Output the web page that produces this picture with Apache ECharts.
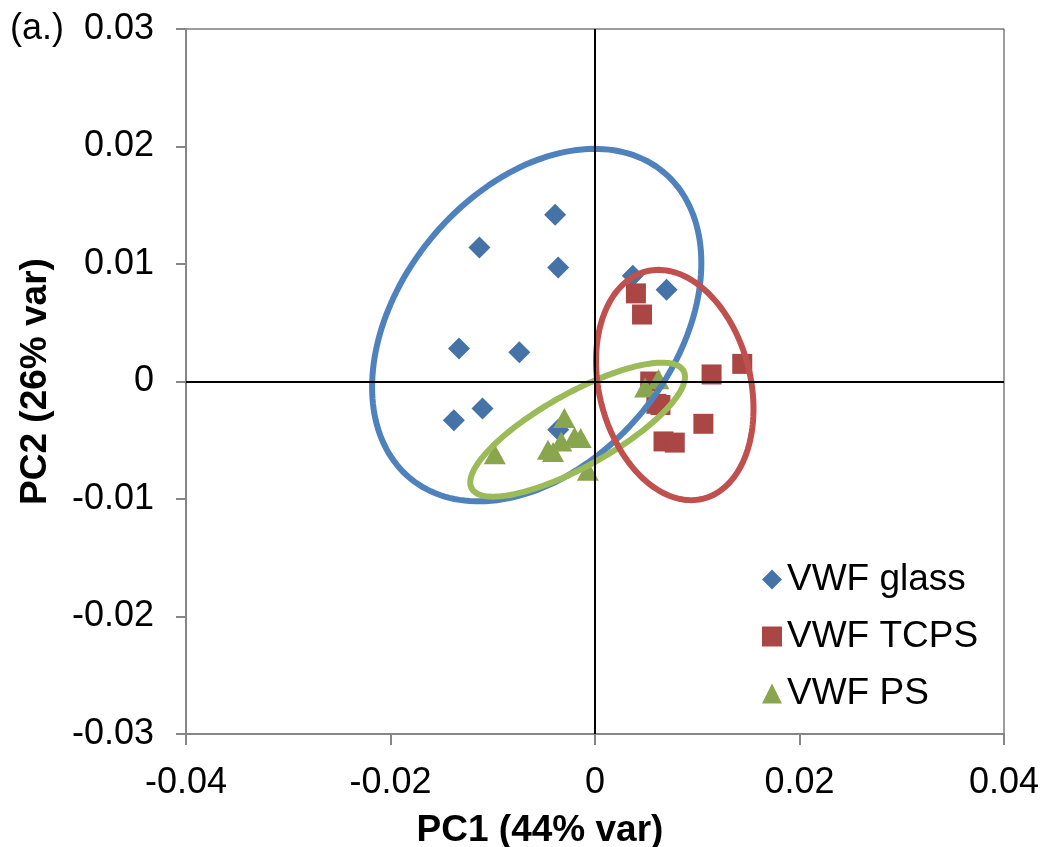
<!DOCTYPE html>
<html>
<head>
<meta charset="utf-8">
<script src="https://cdn.jsdelivr.net/npm/echarts@6/dist/echarts.min.js"></script>
<style>
html,body{margin:0;padding:0;background:#fff;}
#chart{width:1045px;height:847px;}
</style>
</head>
<body>
<div id="chart"></div>
<script>
// ---- data ----
const seriesNames = ['VWF glass', 'VWF TCPS', 'VWF PS'];
const vwfGlass = [[-0.0039,0.0142],[-0.0113,0.0114],[-0.0036,0.0097],[-0.0133,0.0028],[-0.0074,0.0025],[-0.0110,-0.0023],[-0.0138,-0.0033],[-0.0036,-0.0041],[0.0037,0.0090],[0.0070,0.0078]];
const vwfTCPS = [[0.0040,0.0075],[0.0046,0.0057],[0.0144,0.0015],[0.0114,0.0006],[0.0054,0.0000],[0.0060,-0.0019],[0.0064,-0.0020],[0.0106,-0.0036],[0.0067,-0.0051],[0.0078,-0.0052]];
const vwfPS = [[-0.0030,-0.0031],[-0.0020,-0.0047],[-0.0014,-0.0048],[-0.0033,-0.0051],[-0.0046,-0.0058],[-0.0041,-0.0060],[-0.0098,-0.0062],[-0.0007,-0.0076],[0.0049,-0.0005],[0.0062,0.0002]];
// ellipse parameters: [centerX, centerY, halfWidth, halfHeight, correlation]
const ellipseGlass = [-0.0057, 0.0048, 0.0161, 0.0150, 0.352];
const ellipseTCPS = [0.0078, -0.0003, 0.0077, 0.0098, -0.207];
const ellipsePS = [-0.0017, -0.0041, 0.0105, 0.0057, 0.787];
const xAxisRange = [-0.04, 0.04, 0.02];
const yAxisRange = [-0.03, 0.03, 0.01];
const xTitle = 'PC1 (44% var)';
const yTitle = 'PC2 (26% var)';
const panelLabel = '(a.)';

const FONT = '"Liberation Sans", Arial, sans-serif';
const chart = echarts.init(document.getElementById('chart'), null, {renderer: 'canvas'});

function fmt(v) { return Math.abs(v) < 1e-9 ? '0' : v.toFixed(2); }

function ellipseSeries(params, color, z) {
  return {
    type: 'custom',
    z: z,
    silent: true,
    data: [params],
    dimensions: ['cx','cy','rx','ry','rho'],
    encode: {x: 0, y: 1},
    renderItem: function (p, api) {
      const cx = api.value(0), cy = api.value(1), rx = api.value(2), ry = api.value(3), rho = api.value(4);
      const s = Math.sqrt(1 - rho * rho);
      const pts = [];
      const N = 180;
      for (let i = 0; i < N; i++) {
        const t = 2 * Math.PI * i / N;
        pts.push(api.coord([cx + rx * Math.cos(t), cy + ry * (rho * Math.cos(t) + s * Math.sin(t))]));
      }
      return {
        type: 'polygon',
        shape: {points: pts},
        style: {fill: 'none', stroke: color, lineWidth: 6}
      };
    }
  };
}

const option = {
  animation: false,
  backgroundColor: '#fff',
  textStyle: {fontFamily: FONT},
  grid: {left: 186, right: 41, top: 29, bottom: 113, show: true, borderColor: '#3a3a3a', borderWidth: 1,
         containLabel: false, outerBoundsMode: 'none'},
  xAxis: {
    type: 'value', min: xAxisRange[0], max: xAxisRange[1], interval: xAxisRange[2],
    name: xTitle, nameLocation: 'middle', nameGap: 78,
    nameTextStyle: {fontSize: 37, fontWeight: 'bold', color: '#000', fontFamily: FONT, padding: [0, 110, 0, 0]},
    axisLine: {show: true, onZero: false, lineStyle: {color: '#868686', width: 2}},
    axisTick: {show: true, length: 11, lineStyle: {color: '#868686', width: 2}},
    axisLabel: {fontSize: 36, color: '#000', margin: 31, formatter: fmt, fontFamily: FONT},
    splitLine: {show: false}
  },
  yAxis: {
    type: 'value', min: yAxisRange[0], max: yAxisRange[1], interval: yAxisRange[2],
    name: yTitle, nameLocation: 'middle', nameGap: 132, nameRotate: 90,
    nameTextStyle: {fontSize: 37, fontWeight: 'bold', color: '#000', fontFamily: FONT},
    axisLine: {show: true, onZero: false, lineStyle: {color: '#868686', width: 2}},
    axisTick: {show: true, length: 10, lineStyle: {color: '#868686', width: 2}},
    axisLabel: {fontSize: 36, color: '#000', margin: 32, formatter: fmt, fontFamily: FONT},
    splitLine: {show: false}
  },
  legend: {
    data: seriesNames,
    orient: 'vertical',
    left: 757, top: 556,
    itemWidth: 20, itemHeight: 20, itemGap: 20,
    textStyle: {fontSize: 37, color: '#000', fontFamily: FONT, padding: [0,0,0,0]}
  },
  graphic: [{
    type: 'text', left: 10, top: 11,
    style: {text: panelLabel, fontSize: 36, fill: '#000', fontFamily: FONT}
  }],
  series: [
    {name: seriesNames[0], type: 'scatter', symbol: 'diamond', symbolSize: 22, data: vwfGlass, z: 2,
     itemStyle: {color: '#4572A7', opacity: 1}},
    {name: seriesNames[1], type: 'scatter', symbol: 'rect', symbolSize: 20, data: vwfTCPS, z: 2,
     itemStyle: {color: '#AA4643', opacity: 1}},
    {name: seriesNames[2], type: 'scatter', symbol: 'triangle', symbolSize: [22, 20], data: vwfPS, z: 2,
     itemStyle: {color: '#89A54E', opacity: 1}},
    ellipseSeries(ellipseGlass, '#4F81BD', 3),
    ellipseSeries(ellipsePS, '#9BBB59', 3),
    ellipseSeries(ellipseTCPS, '#C0504D', 3),
    {
      type: 'line', data: [], z: 4, silent: true,
      markLine: {
        silent: true, symbol: ['none','none'], animation: false,
        label: {show: false},
        lineStyle: {color: '#000', width: 2, type: 'solid'},
        data: [{xAxis: 0}, {yAxis: 0}]
      }
    }
  ]
};
chart.setOption(option);
</script>
</body>
</html>
